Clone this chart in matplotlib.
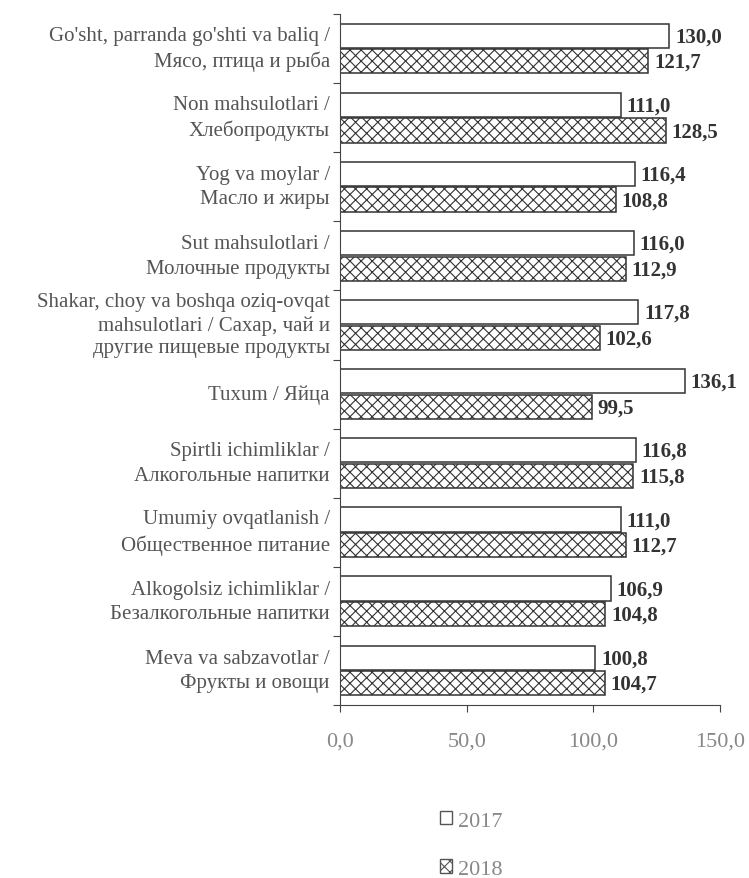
import matplotlib
matplotlib.use("Agg")
import matplotlib.pyplot as plt
import numpy as np
from matplotlib.patches import Patch

categories = [
    "Go'sht, parranda go'shti va baliq /\nМясо, птица и рыба",
    "Non mahsulotlari /\nХлебопродукты",
    "Yog va moylar /\nМасло и жиры",
    "Sut mahsulotlari /\nМолочные продукты",
    "Shakar, choy va boshqa oziq-ovqat\nmahsulotlari / Сахар, чай и\nдругие пищевые продукты",
    "Tuxum / Яйца",
    "Spirtli ichimliklar /\nАлкогольные напитки",
    "Umumiy ovqatlanish /\nОбщественное питание",
    "Alkogolsiz ichimliklar /\nБезалкогольные напитки",
    "Meva va sabzavotlar /\nФрукты и овощи",
]
values_2017 = [130.0, 111.0, 116.4, 116.0, 117.8, 136.1, 116.8, 111.0, 106.9, 100.8]
values_2018 = [121.7, 128.5, 108.8, 112.9, 102.6, 99.5, 115.8, 112.7, 104.8, 104.7]
xticks = [0, 50, 100, 150]
xtick_labels = ["0,0", "50,0", "100,0", "150,0"]

plt.rcParams['font.family'] = ['Liberation Serif', 'DejaVu Serif']
plt.rcParams['hatch.linewidth'] = 0.8

fig = plt.figure(figsize=(7.49, 8.79), dpi=100)
ax = fig.add_axes([340/749, 1-706/879, 380/749, 691/879])

y = np.arange(len(categories))
h = 0.35
ax.barh(y - h/2 - 0.01, values_2017, height=h, color='white', edgecolor='#333333', linewidth=1.1, label='2017')
ax.barh(y + h/2 + 0.01, values_2018, height=h, color='white', edgecolor='#333333', hatch='xxx', linewidth=1.1, label='2018')

def fmt(v):
    return f"{v:.1f}".replace('.', ',')

for yi, v in zip(y, values_2017):
    ax.text(v + 2.2, yi - h/2, fmt(v), va='center', ha='left', fontsize=15, fontweight='bold', color='#333333')
for yi, v in zip(y, values_2018):
    ax.text(v + 2.2, yi + h/2 + 0.02, fmt(v), va='center', ha='left', fontsize=15, fontweight='bold', color='#333333')

ax.set_xlim(0, 150)
ax.set_ylim(len(categories) - 0.5, -0.5)
ax.set_xticks(xticks)
ax.set_xticklabels(xtick_labels, fontsize=16, color='#888888')
ax.set_yticks(np.arange(-0.5, len(categories) + 0.5, 1.0))
ax.set_yticklabels([])
ax.tick_params(axis='y', length=5, color='#444444')
ax.tick_params(axis='x', length=5, color='#444444', pad=14)
for s in ['top', 'right']:
    ax.spines[s].set_visible(False)
for s in ['left', 'bottom']:
    ax.spines[s].set_color('#444444')

for yi, c in zip(y, categories):
    nlines = c.count('\n') + 1
    ls = 1.39 if nlines == 2 else 1.26
    ax.text(-4, yi, c, ha='right', va='center', fontsize=15, color='#555555', linespacing=ls,
            transform=ax.transData, clip_on=False, multialignment='right')

handles = [Patch(facecolor='white', edgecolor='#555555', label='2017'),
           Patch(facecolor='white', edgecolor='#555555', hatch='xxx', label='2018')]
fig.legend(handles=handles, loc='center', bbox_to_anchor=(0.629, 1-846/879), frameon=False,
           fontsize=16, labelspacing=1.3, handlelength=0.55, handleheight=0.55, handletextpad=0.25,
           labelcolor='#888888')

fig.savefig('out.png', dpi=100)
